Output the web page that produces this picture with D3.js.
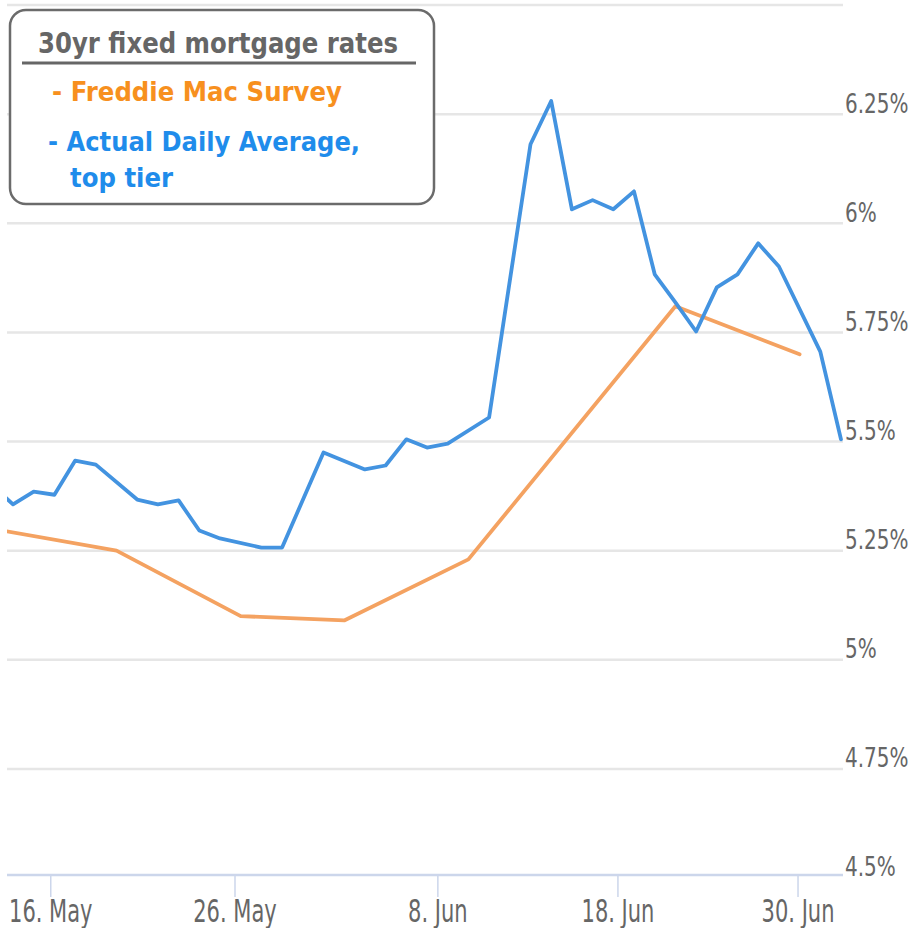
<!DOCTYPE html>
<meta charset="utf-8">
<body style="margin:0;background:#fff;">
<svg width="911" height="928"></svg>
<script src="https://cdn.jsdelivr.net/npm/d3@7"></script>
<script>

// x is an ordinal "session" index (weekends / missing days dropped), like the original stock chart
var blueStart = -1;
var blueRates = [5.40, 5.356, 5.385, 5.378, 5.456, 5.447, null, 5.367, 5.356, 5.365,
                 5.296, 5.278, null, 5.257, 5.257, null, 5.475, null, 5.436, 5.445,
                 5.505, 5.486, 5.495, null, 5.555, null, 6.181, 6.28, 6.032, 6.053,
                 6.032, 6.073, 5.883, 5.819, 5.752, 5.853, 5.883, 5.954, 5.901, null,
                 5.706, 5.505];

var freddieIdx   = [-1, 5, 11, 16, 22, 32, 38];
var freddieRates = [5.30, 5.25, 5.10, 5.09, 5.23, 5.81, 5.70];

var yTicks = [4.5, 4.75, 5, 5.25, 5.5, 5.75, 6, 6.25];
var yGrid  = [4.75, 5, 5.25, 5.5, 5.75, 6, 6.25, 6.5];

var xTickPos    = [1.8, 10.7, 20.5, 29.2, 37.9];
var xTickLabels = ["16. May", "26. May", "8. Jun", "18. Jun", "30. Jun"];

var legendTitle = "30yr fixed mortgage rates";
var legendLines = ["- Freddie Mac Survey", "- Actual Daily Average,", "top tier"];

var svg = d3.select("svg");
var plotLeft = 7, plotRight = 843, plotBottom = 878;

var x = d3.scaleLinear().domain([0, 40]).range([13, 841]);
var y = d3.scaleLinear().domain([4.5, 6.5]).range([plotBottom, 5]);

svg.append("defs").append("clipPath").attr("id", "plot")
   .append("rect").attr("x", plotLeft).attr("y", 0)
   .attr("width", plotRight - plotLeft).attr("height", plotBottom);

// grid
svg.append("g").selectAll("line").data(yGrid).enter().append("line")
   .attr("x1", plotLeft).attr("x2", plotRight)
   .attr("y1", d => y(d)).attr("y2", d => y(d))
   .attr("stroke", "#e6e6e6").attr("stroke-width", 2.5);

// y labels
var yAxis = svg.append("g")
   .attr("transform", "translate(845,0)")
   .call(d3.axisRight(y).tickValues(yTicks).tickSize(0)
         .tickFormat(d => (+d.toFixed(2)) + "%"));
yAxis.select(".domain").remove();
yAxis.selectAll("text")
   .attr("x", 0).attr("y", -1.5).attr("dy", 0)
   .attr("text-anchor", "start")
   .attr("transform", "scale(1,1.37)")
   .style("font-family", "DejaVu Sans").style("font-size", "20px")
   .attr("fill", "#666");

// x axis
var xAxis = svg.append("g")
   .attr("transform", "translate(0," + (plotBottom - 3) + ")")
   .call(d3.axisBottom(x).tickValues(xTickPos).tickSize(22)
         .tickFormat((d, i) => xTickLabels[i]));
xAxis.select(".domain").remove();
xAxis.selectAll("line").attr("stroke", "#ccd6eb").attr("stroke-width", 1.5);
xAxis.selectAll("text")
   .attr("y", 30.5).attr("dy", 0)
   .attr("transform", "scale(1,1.54)")
   .style("font-family", "DejaVu Sans").style("font-size", "21px")
   .attr("fill", "#666");
svg.append("line")
   .attr("x1", plotLeft).attr("x2", plotRight)
   .attr("y1", plotBottom - 3).attr("y2", plotBottom - 3)
   .attr("stroke", "#ccd6eb").attr("stroke-width", 2.5);

// series
var blueData = blueRates.map((v, i) => [blueStart + i, v]).filter(d => d[1] != null);
var orangeData = freddieIdx.map((d, i) => [d, freddieRates[i]]);

var line = d3.line().x(d => x(d[0])).y(d => y(d[1]));
var plot = svg.append("g").attr("clip-path", "url(#plot)");

plot.append("path").datum(orangeData).attr("d", line)
    .attr("fill", "none").attr("stroke", "#f4a261").attr("stroke-width", 3.8)
    .attr("stroke-linejoin", "round").attr("stroke-linecap", "round");
plot.append("path").datum(blueData).attr("d", line)
    .attr("fill", "none").attr("stroke", "#4393e0").attr("stroke-width", 3.8)
    .attr("stroke-linejoin", "round").attr("stroke-linecap", "round");

// legend box
var lg = svg.append("g");
lg.append("rect").attr("x", 10).attr("y", 10).attr("width", 424).attr("height", 194)
  .attr("rx", 16).attr("fill", "#fff").attr("stroke", "#6b6b6b").attr("stroke-width", 2.5);
lg.append("text").attr("x", 38).attr("y", 53).text(legendTitle)
  .attr("textLength", 360).attr("lengthAdjust", "spacingAndGlyphs")
  .style("font-family", "DejaVu Sans").style("font-weight", "bold").style("font-size", "28px")
  .attr("fill", "#666");
lg.append("line").attr("x1", 22).attr("x2", 416).attr("y1", 63).attr("y2", 63)
  .attr("stroke", "#666").attr("stroke-width", 3);

var legendPos = [[52, 101, 290, "#f7901e"], [48, 151, 312, "#1f8ceb"], [70, 187, 103, "#1f8ceb"]];
legendLines.forEach(function(t, i) {
  var p = legendPos[i];
  lg.append("text").attr("x", p[0]).attr("y", p[1]).text(t)
    .attr("textLength", p[2]).attr("lengthAdjust", "spacingAndGlyphs")
    .style("font-family", "DejaVu Sans").style("font-weight", "bold").style("font-size", "26px")
    .attr("fill", p[3]);
});

</script>
</body>
